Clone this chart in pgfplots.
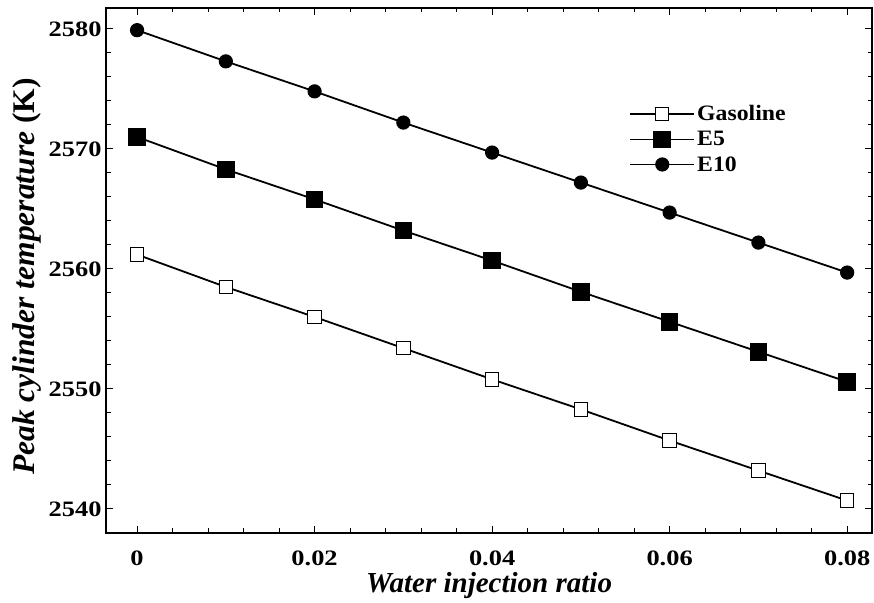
\documentclass[border=0pt]{standalone}
\usepackage{pgfplots}
\pgfplotsset{compat=1.18}
\usepackage{fontspec}
\setmainfont{Liberation Serif}
\newcommand{\sx}[1]{\scalebox{1.2}[1]{#1}}
\newcommand{\slg}[1]{\scalebox{1.08}[1]{#1}}
\begin{document}
\begin{tikzpicture}
\begin{axis}[
  scale only axis,
  width=766pt, height=525pt,
  xmin=-0.0035, xmax=0.0828,
  ymin=2538, ymax=2581.75,
  scaled ticks=false,
  xtick={0,0.02,0.04,0.06,0.08},
  xticklabels={\sx{0},\sx{0.02},\sx{0.04},\sx{0.06},\sx{0.08}},
  ytick={2540,2550,2560,2570,2580},
  yticklabels={\sx{2540},\sx{2550},\sx{2560},\sx{2570},\sx{2580}},
  minor x tick num=4,
  minor y tick num=4,
  tick align=inside,
  major tick length=7pt,
  minor tick length=4.5pt,
  every tick/.style={black, line width=1pt},
  axis line style={line width=2.6pt},
  xticklabel style={font=\fontsize{22}{24}\selectfont\bfseries, inner sep=0.5pt, yshift=-17pt},
  yticklabel style={font=\fontsize{22}{24}\selectfont\bfseries, xshift=-1pt},
  xlabel={\textbf{\textit{Water injection ratio}}},
  ylabel={\textbf{\textit{Peak cylinder temperature}} \textbf{(K)}},
  every axis x label/.style={at={(axis description cs:0.5,-0.101)}, anchor=center, inner sep=0pt, font=\fontsize{29}{31}\selectfont},
  every axis y label/.style={at={(axis description cs:-0.103,0.4886)}, anchor=center, rotate=90, font=\fontsize{31.5}{34}\selectfont},
  clip=false,
  legend style={at={(axis description cs:0.683,0.818)}, anchor=north west, draw=none, fill=none,
    font=\fontsize{22}{24}\selectfont\bfseries, row sep=5pt, inner sep=0pt},
  legend cell align=left,
  legend image code/.code={\draw[#1, mark repeat=2, mark phase=2] plot coordinates {(0pt,0pt) (32pt,0pt) (64pt,0pt)};},
]
\addplot[black, line width=1.8pt, mark=square*, mark options={fill=white, line width=1pt, scale=0.95}, mark size=7pt]
coordinates {(0,2561.2) (0.01,2558.5) (0.02,2556.0) (0.03,2553.4) (0.04,2550.8) (0.05,2548.3) (0.06,2545.7) (0.07,2543.2) (0.08,2540.7)};
\addlegendentry{\slg{Gasoline}}
\addplot[black, line width=1.8pt, mark=square*, mark options={fill=black, line width=1pt}, mark size=8.3pt]
coordinates {(0,2571.0) (0.01,2568.3) (0.02,2565.8) (0.03,2563.2) (0.04,2560.7) (0.05,2558.1) (0.06,2555.6) (0.07,2553.1) (0.08,2550.6)};
\addlegendentry{\slg{E5}}
\addplot[black, line width=1.8pt, mark=*, mark options={fill=black, line width=1pt}, mark size=6.6pt]
coordinates {(0,2579.9) (0.01,2577.3) (0.02,2574.8) (0.03,2572.2) (0.04,2569.7) (0.05,2567.2) (0.06,2564.7) (0.07,2562.2) (0.08,2559.7)};
\addlegendentry{\slg{E10}}
\coordinate (bbl) at (rel axis cs:-0.1384,-0.1333);
\coordinate (btr) at (rel axis cs:1.0026,1.0152);
\end{axis}
\pgfresetboundingbox
\path[use as bounding box] (bbl) rectangle (btr);
\end{tikzpicture}
\end{document}
